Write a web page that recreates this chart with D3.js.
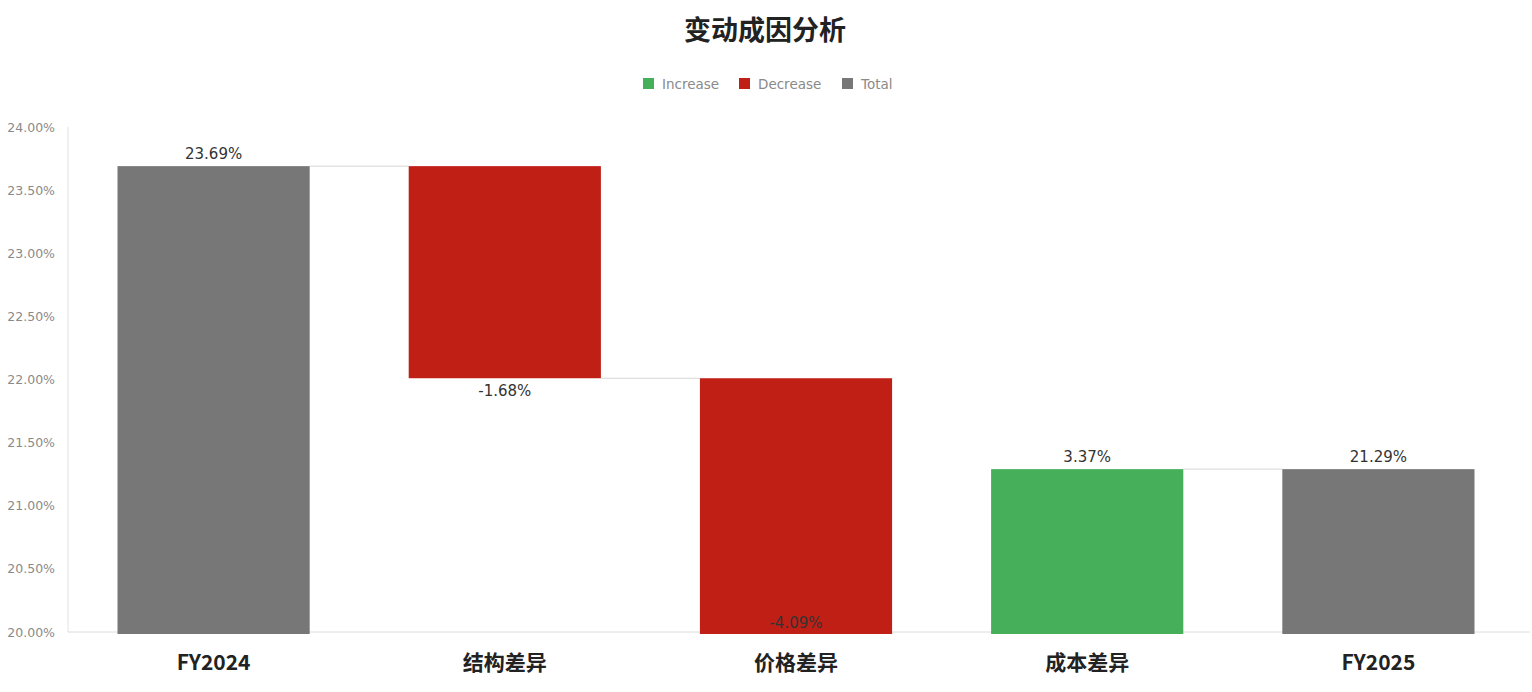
<!DOCTYPE html>
<html><head><meta charset="utf-8">
<script src="https://cdn.jsdelivr.net/npm/d3@7"></script>
<style>body{margin:0;background:#fff;}svg{display:block;}</style>
</head><body>
<svg id="c" width="1532" height="692"></svg>
<script>
const categories = ["FY2024","结构差异","价格差异","成本差异","FY2025"];
const values = [23.69, -1.68, -4.09, 3.37, 21.29];
const kinds = ["total","delta","delta","delta","total"];
const yTicks = [20,20.5,21,21.5,22,22.5,23,23.5,24];
const legendItems = [["Increase","#45AF5A"],["Decrease","#C01F16"],["Total","#777777"]];

const colors = {inc:"#45AF5A", dec:"#C01F16", total:"#777777"};
const svg = d3.select("#c");
const m = {l:68, r:1524, axisR:1530, t:127, b:632};
const x = d3.scaleBand().domain(categories).range([m.l, m.r]).paddingInner(0.34).paddingOuter(0.17);
const y = d3.scaleLinear().domain([20,24]).range([m.b, m.t]);

// compute waterfall
let run = 0;
const bars = categories.map((c,i)=>{
  let start, end, type;
  if (kinds[i]==="total") { start = 20 - 0.02; end = values[i]; run = values[i]; type="total"; }
  else { start = run; end = run + values[i]; run = end; type = values[i] >= 0 ? "inc" : "dec"; }
  return {c, start, end, type, v: values[i]};
});

// title
svg.append("text").attr("x", 765).attr("y", 40).attr("text-anchor","middle")
  .attr("font-family","Noto Sans CJK SC").attr("font-weight","bold").attr("font-size",27).attr("fill","#222").text("变动成因分析");

// legend
const lg = svg.append("g").attr("font-family","DejaVu Sans").attr("font-size",13.5).attr("fill","#8a8a8a");
const legX = [643, 739, 842];
legendItems.forEach((d,i)=>{
  lg.append("rect").attr("x",legX[i]).attr("y",78).attr("width",11).attr("height",11).attr("fill",d[1]);
  lg.append("text").attr("x",legX[i]+19).attr("y",88.5).text(d[0]);
});

// axes lines
svg.append("line").attr("x1",m.l).attr("x2",m.l).attr("y1",m.t).attr("y2",m.b).attr("stroke","#e2e2e2");
svg.append("line").attr("x1",m.l).attr("x2",m.axisR).attr("y1",m.b).attr("y2",m.b).attr("stroke","#dcdcdc");

// y ticks
const yAxis = d3.axisLeft(y).tickValues(yTicks).tickFormat(d=>d.toFixed(2)+"%").tickSize(0).tickPadding(13);
const ya = svg.append("g").attr("transform",`translate(${m.l},0)`).call(yAxis);
ya.select(".domain").remove();
ya.selectAll("text").attr("font-family","DejaVu Sans").attr("font-size",12.5).attr("fill","#8a8a8a");

// clip
svg.append("clipPath").attr("id","pc").append("rect").attr("x",m.l).attr("y",m.t-40).attr("width",m.axisR-m.l).attr("height",m.b-m.t+42);

// connectors
const g = svg.append("g").attr("clip-path","url(#pc)");
bars.forEach((b,i)=>{
  if (i < bars.length-1) {
    const lvl = b.end;
    g.append("line").attr("x1", x(b.c)+x.bandwidth()).attr("x2", x(categories[i+1]))
      .attr("y1", y(lvl)).attr("y2", y(lvl)).attr("stroke","#d6d6d6").attr("stroke-width",1);
  }
});

// bars
g.selectAll("rect.bar").data(bars).join("rect").attr("class","bar")
  .attr("x", d=>x(d.c)).attr("width", x.bandwidth())
  .attr("y", d=>y(Math.max(d.start,d.end)))
  .attr("height", d=>Math.min(y(Math.min(d.start,d.end)), m.b+2) - y(Math.max(d.start,d.end)))
  .attr("fill", d=>colors[d.type]);

// labels
const lab = svg.append("g").attr("font-family","DejaVu Sans").attr("font-size",15).attr("fill","#333").attr("text-anchor","middle");
bars.forEach(b=>{
  const cx = x(b.c)+x.bandwidth()/2;
  let ty;
  const txt = b.v.toFixed(2)+"%";
  if (b.type==="total" || b.type==="inc") ty = y(b.end) - 7;
  else {
    const endY = y(b.end);
    ty = endY > m.b ? m.b - 4 : endY + 18;
  }
  lab.append("text").attr("x",cx).attr("y",ty).text(txt);
});

// x labels
const xAxis = d3.axisBottom(x).tickSize(0);
const xa = svg.append("g").attr("transform",`translate(0,${m.b})`).call(xAxis);
xa.select(".domain").remove();
xa.selectAll("text").attr("dy", null).attr("y", 38)
  .attr("font-family","Noto Sans CJK SC").attr("font-weight","bold").attr("font-size",21).attr("fill","#222");
</script>
</body></html>
